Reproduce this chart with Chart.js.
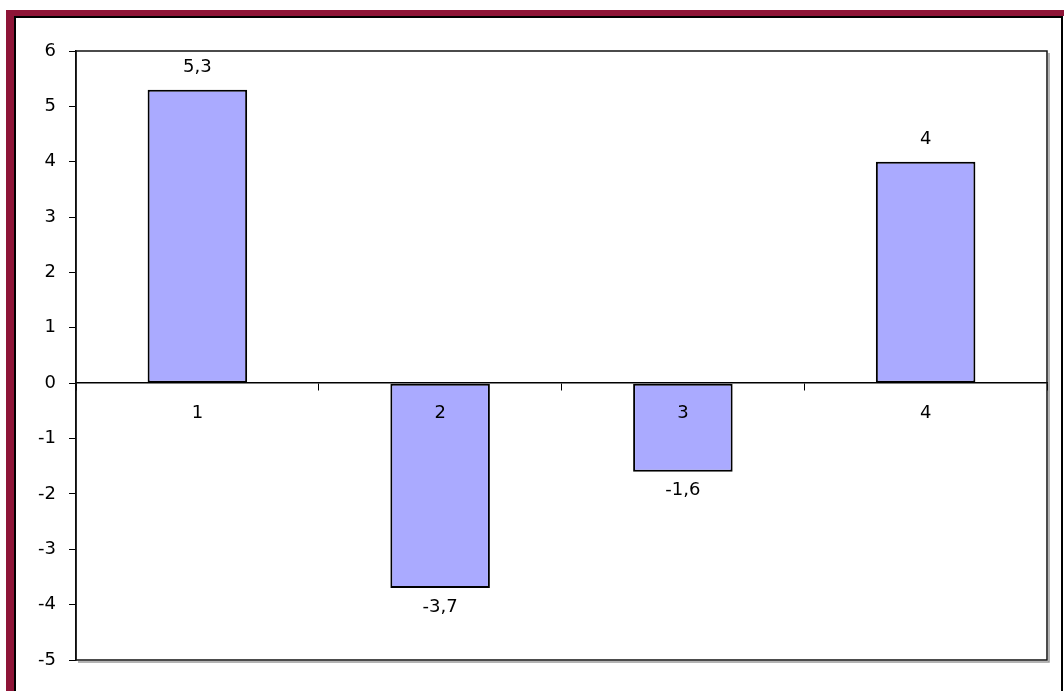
<!DOCTYPE html>
<html>
<head>
<meta charset="utf-8">
<script src="https://cdn.jsdelivr.net/npm/chart.js@4/dist/chart.umd.min.js"></script>
<style>
    body { margin: 0; background: #fff; overflow: hidden; }
    #marco { position: absolute; left: 6px; top: 10px; width: 1100px; height: 720px; border-left: 8px solid #8e1537; border-top: 6px solid #8e1537; box-sizing: border-box; }
    #interior { position: absolute; left: 14px; top: 16px; width: 1049px; height: 700px; border-left: 2px solid #000; border-top: 2px solid #000; border-right: 2px solid #000; box-sizing: border-box; }
    #lienzo { position: absolute; left: 0; top: 0; }
</style>
</head>
<body>
<div id="marco"></div>
<div id="interior"></div>
<canvas id="lienzo" width="1064" height="691"></canvas>
<script>
const categorias = ['1', '2', '3', '4'];
const valores = [5.3, -3.7, -1.6, 4];
const ejeMin = -5;
const ejeMax = 6;

const fuente = '"DejaVu Sans", Arial, sans-serif';

// marco del area de trazado
const marcoPlot = {
    id: 'marcoPlot',
    beforeDatasetsDraw(chart) {
        const { ctx, chartArea: a } = chart;
        ctx.save();
        ctx.strokeStyle = '#9a9a9a';
        ctx.lineWidth = 1.5;
        ctx.beginPath();
        ctx.moveTo(a.right + 2, a.top + 2);
        ctx.lineTo(a.right + 2, a.bottom + 2);
        ctx.lineTo(a.left + 2, a.bottom + 2);
        ctx.stroke();
        ctx.strokeStyle = '#111';
        ctx.strokeRect(a.left, a.top, a.right - a.left, a.bottom - a.top);
        ctx.restore();
    }
};

// etiquetas de valor encima / debajo de cada barra
const etiquetas = {
    id: 'etiquetas',
    afterDatasetsDraw(chart) {
        const ctx = chart.ctx;
        const meta = chart.getDatasetMeta(0);
        ctx.save();
        ctx.font = '18px ' + fuente;
        ctx.fillStyle = '#000';
        ctx.textAlign = 'center';
        ctx.textBaseline = 'middle';
        meta.data.forEach((barra, i) => {
            const v = valores[i];
            const texto = String(v).replace('.', ',');
            const y = v >= 0 ? barra.y - 22 : barra.y + 19;
            ctx.fillText(texto, barra.x, y);
        });
        ctx.restore();
    }
};

new Chart(document.getElementById('lienzo'), {
    type: 'bar',
    data: {
        labels: categorias,
        datasets: [{
            data: valores,
            backgroundColor: '#aaaaff',
            borderColor: '#000',
            borderWidth: 2,
            borderSkipped: false,
            categoryPercentage: 1,
            barPercentage: 0.41
        }]
    },
    options: {
        responsive: false,
        animation: false,
        layout: { padding: { left: 0, top: 51, right: 17, bottom: 31 } },
        plugins: { legend: { display: false }, tooltip: { enabled: false } },
        scales: {
            x: {
                position: { y: 0 },
                offset: true,
                grid: { display: true, drawOnChartArea: false, color: '#000', tickLength: 7, offset: true },
                border: { color: '#000', width: 1.5 },
                // z: 1 para que los numeros 2 y 3 queden encima de las barras
                ticks: { z: 1, color: '#000', padding: 12, font: { family: fuente, size: 18 } }
            },
            y: {
                min: ejeMin,
                max: ejeMax,
                afterFit: scale => { scale.width = 76; },
                grid: { drawOnChartArea: false, color: '#000', tickLength: 7 },
                border: { color: '#000', width: 1.5 },
                ticks: { stepSize: 1, color: '#000', padding: 13, font: { family: fuente, size: 18 } }
            }
        }
    },
    plugins: [marcoPlot, etiquetas]
});
</script>
</body>
</html>
